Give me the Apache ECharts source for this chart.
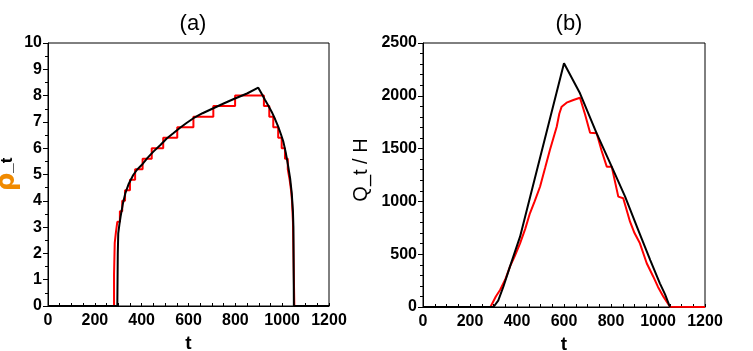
<!DOCTYPE html>
<html>
<head>
<meta charset="utf-8">
<script src="https://cdn.jsdelivr.net/npm/echarts@6/dist/echarts.min.js"></script>
<style>
  html, body { margin: 0; padding: 0; background: #fff; }
  #main { width: 753px; height: 351px; }
</style>
</head>
<body>
<div id="main"></div>
<script>
// panel (a): rho_t
const tA = [0, 296, 298, 300, 305, 310, 320, 330, 345, 364, 380, 400, 425, 450, 480, 507, 535, 564, 590, 621, 660, 706, 750, 791, 850, 898, 915, 927, 940, 955, 970, 983, 995, 1005, 1015, 1026, 1034, 1041, 1046, 1048, 1050, 1200]
const rhoA = [0, 0, 2.0, 2.76, 3.1, 3.4, 3.9, 4.28, 4.65, 4.98, 5.18, 5.36, 5.63, 5.87, 6.12, 6.37, 6.57, 6.78, 6.95, 7.14, 7.33, 7.52, 7.7, 7.86, 8.08, 8.3, 8.03, 7.83, 7.63, 7.39, 7.1, 6.82, 6.52, 6.25, 5.85, 5.3, 4.85, 4.28, 3.6, 3.0, 0, 0]
// red staircase: level rhoRedA[i] is held from tRedA[i] to tRedA[i + 1]
const tRedA = [0, 282, 285, 290, 296, 307, 317, 329, 350, 372, 404, 443, 492, 552, 621, 706, 799, 922, 945, 962, 983, 998, 1012, 1024, 1032, 1038, 1042, 1046, 1052, 1200]
const rhoRedA = [0, 1.2, 2.4, 2.8, 3.2, 3.6, 4.0, 4.4, 4.8, 5.2, 5.6, 6.0, 6.4, 6.8, 7.2, 7.6, 8.0, 7.6, 7.2, 6.8, 6.4, 6.0, 5.6, 5.2, 4.8, 4.4, 4.0, 3.2, 0, 0]

// panel (b): Q_t / H
const tB = [0, 300, 306, 320, 342, 370, 413, 500, 600, 668, 739, 803, 860, 916, 967, 1008, 1030, 1051]
const qB = [0, 0, 3, 60, 192, 382, 666, 1430, 2308, 2024, 1645, 1329, 1045, 729, 445, 224, 120, 0]
const tRedB = [0, 287, 292, 310, 328, 350, 370, 390, 413, 435, 455, 475, 498, 520, 540, 555, 569, 580, 590, 611, 640, 668, 690, 711, 739, 760, 782, 803, 831, 852, 881, 900, 923, 952, 980, 1000, 1023, 1051, 1200]
const qRedB = [0, 0, 3, 100, 161, 260, 382, 480, 603, 740, 887, 1000, 1139, 1320, 1487, 1600, 1707, 1830, 1897, 1935, 1960, 1982, 1820, 1651, 1645, 1480, 1329, 1329, 1045, 1030, 808, 700, 603, 414, 287, 190, 98, 3, 0]

const tTicks = { min: 0, max: 1200, interval: 200 }

const zip = (xs, ys) => xs.map((x, i) => [x, ys[i]])

const labelFont = {
  fontFamily: 'Liberation Sans',
  fontWeight: 'bold',
  fontSize: 16,
  color: '#000',
  formatter: (v) => String(v)
}

function xAxisFor (gridIndex) {
  return {
    type: 'value',
    gridIndex: gridIndex,
    min: tTicks.min,
    max: tTicks.max,
    interval: tTicks.interval,
    name: 't',
    nameLocation: 'middle',
    nameGap: 20,
    nameTextStyle: { fontFamily: 'Liberation Sans', fontWeight: 'bold', fontSize: 19, color: '#000' },
    axisLine: { lineStyle: { color: '#000', width: 1 } },
    axisTick: { inside: true, length: 3, lineStyle: { color: '#000' } },
    minorTick: { show: true, splitNumber: 4, length: 3, lineStyle: { color: '#000' } },
    axisLabel: Object.assign({ margin: 7 }, labelFont),
    splitLine: { show: false }
  }
}

const myChart = echarts.init(document.getElementById('main'))

const titleStyle = { fontFamily: 'Liberation Sans', fontWeight: 'normal', fontSize: 22, color: '#000' }

const option = {
  animation: false,
  backgroundColor: '#fff',
  title: [
    { text: '(a)', left: 188, top: 8, textAlign: 'center', textStyle: titleStyle },
    { text: '(b)', left: 564, top: 8, textAlign: 'center', textStyle: titleStyle }
  ],
  grid: [
    { left: 48, top: 43, width: 281, height: 263, containLabel: false, outerBoundsMode: 'none', show: true, borderColor: '#000', borderWidth: 1, backgroundColor: 'transparent' },
    { left: 423, top: 43, width: 282, height: 264, containLabel: false, outerBoundsMode: 'none', show: true, borderColor: '#000', borderWidth: 1, backgroundColor: 'transparent' }
  ],
  xAxis: [xAxisFor(0), xAxisFor(1)],
  yAxis: [
    {
      type: 'value',
      gridIndex: 0,
      min: 0,
      max: 10,
      interval: 1,
      name: '{r|ρ}_t',
      nameLocation: 'middle',
      nameGap: 26,
      nameTextStyle: {
        fontFamily: 'Liberation Sans',
        fontWeight: 'bold',
        fontSize: 17,
        color: '#000',
        rich: { r: { fontFamily: 'DejaVu Sans', fontWeight: 'bold', fontSize: 26, color: '#f08a00' } }
      },
      axisLine: { lineStyle: { color: '#000', width: 1 } },
      axisTick: { length: 5, lineStyle: { color: '#000' } },
      minorTick: { show: true, splitNumber: 2, length: 3, lineStyle: { color: '#000' } },
      axisLabel: Object.assign({ margin: 6 }, labelFont),
      splitLine: { show: false }
    },
    {
      type: 'value',
      gridIndex: 1,
      min: 0,
      max: 2500,
      interval: 500,
      name: 'Q_t / H',
      nameLocation: 'middle',
      nameGap: 52,
      nameTextStyle: { fontFamily: 'Liberation Sans', fontSize: 20, color: '#000', padding: [0, 0, 0, 10] },
      axisLine: { lineStyle: { color: '#000', width: 1 } },
      axisTick: { length: 5, lineStyle: { color: '#000' } },
      minorTick: { show: true, splitNumber: 5, length: 3, lineStyle: { color: '#000' } },
      axisLabel: Object.assign({ margin: 6 }, labelFont),
      splitLine: { show: false }
    }
  ],
  series: [
    {
      name: 'rho staircase',
      type: 'line',
      xAxisIndex: 0,
      yAxisIndex: 0,
      step: 'end',
      symbol: 'none',
      lineStyle: { color: '#ff0000', width: 2 },
      data: zip(tRedA, rhoRedA)
    },
    {
      name: 'rho',
      type: 'line',
      xAxisIndex: 0,
      yAxisIndex: 0,
      symbol: 'none',
      lineStyle: { color: '#000', width: 2 },
      data: zip(tA, rhoA)
    },
    {
      name: 'Q staircase',
      type: 'line',
      xAxisIndex: 1,
      yAxisIndex: 1,
      symbol: 'none',
      lineStyle: { color: '#ff0000', width: 2 },
      data: zip(tRedB, qRedB)
    },
    {
      name: 'Q',
      type: 'line',
      xAxisIndex: 1,
      yAxisIndex: 1,
      symbol: 'none',
      lineStyle: { color: '#000', width: 2 },
      data: zip(tB, qB)
    }
  ]
}

myChart.setOption(option)
</script>
</body>
</html>
